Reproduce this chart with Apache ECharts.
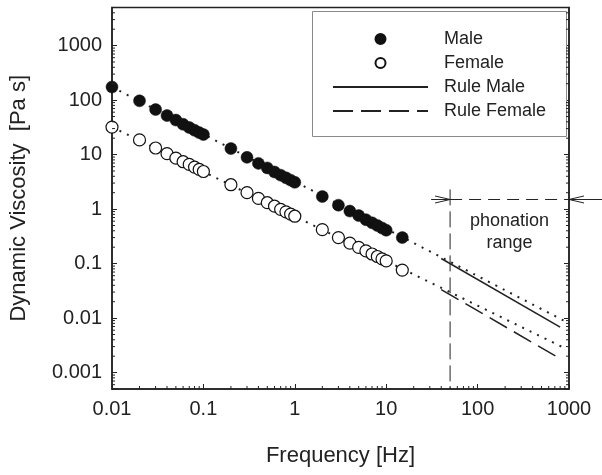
<!DOCTYPE html>
<html>
<head>
<meta charset="utf-8">
<script src="https://cdn.jsdelivr.net/npm/echarts@6/dist/echarts.min.js"></script>
<style>html,body{margin:0;padding:0;background:#fff}#c{width:602px;height:475px}</style>
</head>
<body>
<div id="c"></div>
<script>
// ---- data ----
const freq = [0.01,0.02,0.03,0.04,0.05,0.06,0.07,0.08,0.09,0.1,
              0.2,0.3,0.4,0.5,0.6,0.7,0.8,0.9,1,
              2,3,4,5,6,7,8,9,10,15];
const maleVisc = [174,97,67,52,43,36,31.5,28,25.3,23.3,
                  12.9,8.9,6.9,5.7,4.8,4.2,3.75,3.4,3.1,
                  1.7,1.18,0.92,0.76,0.64,0.56,0.5,0.45,0.41,0.3];
const femaleVisc = [32,18.6,13.2,10.4,8.6,7.4,6.6,5.9,5.35,4.9,
                    2.8,2.0,1.57,1.31,1.13,0.99,0.89,0.81,0.74,
                    0.42,0.30,0.238,0.198,0.171,0.150,0.135,0.122,0.112,0.076];
const fitFreq = [0.01, 900];
const maleFitVisc = [174, 0.0088];
const femaleFitVisc = [32, 0.0028];
const ruleFreq = [40, 800];
const ruleMaleVisc = [0.124, 0.00685];
const ruleFemaleVisc = [0.0334, 0.0018];
const phonationLow = 50, phonationHigh = 1000, phonationLevel = 1.5, phonationTop = 2.3;
const phonationArrowOuter = [31, 18000];
const phonationLabels = ['phonation', 'range'];
const xMin = 0.01, xMax = 1000, yMin = 0.0005, yMax = 5000;
const xTickLabels = ['0.01','0.1','1','10','100','1000'];
const yTickLabels = ['0.001','0.01','0.1','1','10','100','1000'];

// minor tick positions (2..9 x 10^k)
const minorTicks = [];
for (let e = -2; e <= 2; e++) for (let m = 2; m <= 9; m++) minorTicks.push([m * Math.pow(10, e), yMin, 0]);
for (let e = -4; e <= 3; e++) for (let m = 2; m <= 9; m++) {
  const v = m * Math.pow(10, e);
  if (v > yMin * 0.999 && v < yMax * 1.001) minorTicks.push([xMin, v, 1]);
}

const pairs = (xs, ys) => xs.map((x, i) => [x, ys[i]]);
const FONT = "'Liberation Sans', Arial, sans-serif";
const INK = '#222';

function labelFmt(list) {
  return function (v) {
    for (const s of list) if (Math.abs(parseFloat(s) - v) / v < 1e-6) return s;
    return '';
  };
}

const chart = echarts.init(document.getElementById('c'));
chart.setOption({
  animation: false,
  textStyle: { fontFamily: FONT },
  grid: { left: 110, right: 33, top: 7.5, bottom: 86, show: true, borderColor: INK, borderWidth: 1.5, backgroundColor: 'transparent' },
  graphic: [{
    type: 'rect', left: 312, top: 11, z: 1,
    shape: { width: 254, height: 125 },
    style: { fill: '#fff', stroke: '#8a8a8a', lineWidth: 1 }
  }],
  legend: {
    data: [
      { name: 'Male' },
      { name: 'Female' },
      { name: 'Rule Male', itemStyle: { opacity: 0 } },
      { name: 'Rule Female', itemStyle: { opacity: 0 } }
    ],
    orient: 'vertical', left: 327, top: 25, z: 5,
    itemWidth: 95, itemHeight: 10, itemGap: 6,
    selectedMode: false,
    textStyle: { fontSize: 18, color: INK, fontFamily: FONT, padding: [0, 0, 0, 11], lineHeight: 18 }
  },
  xAxis: {
    type: 'log', logBase: 10, min: xMin, max: xMax,
    name: 'Frequency [Hz]', nameLocation: 'middle', nameGap: 56,
    nameTextStyle: { fontSize: 22, color: INK },
    axisLine: { lineStyle: { color: INK, width: 1.5 } },
    axisTick: { inside: true, length: 5, lineStyle: { color: INK, width: 1 } },
    axisLabel: { fontSize: 20, color: INK, margin: 10, formatter: labelFmt(xTickLabels) },
    splitLine: { show: false }
  },
  yAxis: [{
    type: 'log', logBase: 10, min: yMin, max: yMax, splitNumber: 7,
    name: 'Dynamic Viscosity  [Pa s]', nameLocation: 'middle', nameGap: 82,
    nameTextStyle: { fontSize: 22, color: INK },
    axisLine: { lineStyle: { color: INK, width: 1.5 } },
    axisTick: { inside: true, length: 5, lineStyle: { color: INK, width: 1 } },
    axisLabel: { fontSize: 20, color: INK, margin: 10, formatter: labelFmt(yTickLabels), showMinLabel: true, showMaxLabel: true },
    splitLine: { show: false }
  }, {
    type: 'log', logBase: 10, min: yMin, max: yMax, splitNumber: 7, position: 'right',
    axisLine: { show: true, lineStyle: { color: INK, width: 1.5 } },
    axisTick: { inside: true, length: 5, lineStyle: { color: INK, width: 1 } },
    axisLabel: { show: false },
    splitLine: { show: false }
  }],
  series: [
    {
      name: 'Male fit', type: 'line', data: pairs(fitFreq, maleFitVisc), symbol: 'none', z: 2,
      lineStyle: { color: INK, width: 2, type: [2, 6.3] }
    },
    {
      name: 'Female fit', type: 'line', data: pairs(fitFreq, femaleFitVisc), symbol: 'none', z: 2,
      lineStyle: { color: INK, width: 2, type: [2, 6.3] }
    },
    {
      name: 'Rule Male', type: 'line', data: pairs(ruleFreq, ruleMaleVisc), symbol: 'none', showSymbol: false, z: 3,
      lineStyle: { color: INK, width: 1.5, type: 'solid' }, itemStyle: { color: INK }
    },
    {
      name: 'Rule Female', type: 'line', data: pairs(ruleFreq, ruleFemaleVisc), symbol: 'none', showSymbol: false, z: 3,
      lineStyle: { color: INK, width: 1.5, type: [20, 8] }, itemStyle: { color: INK }
    },
    {
      name: 'Male', type: 'scatter', data: pairs(freq, maleVisc), symbol: 'circle', symbolSize: 12, clip: false, z: 4,
      itemStyle: { color: '#111', borderColor: '#111', borderWidth: 0.5, opacity: 1 }
    },
    {
      name: 'Female', type: 'scatter', data: pairs(freq, femaleVisc), symbol: 'circle', symbolSize: 12, clip: false, z: 4,
      itemStyle: { color: '#fff', borderColor: '#111', borderWidth: 1.2, opacity: 1 }
    },
    {
      name: 'minor ticks', type: 'custom', data: minorTicks, encode: { x: 0, y: 1 }, silent: true, clip: false, z: 6,
      renderItem: function (params, api) {
        const kind = api.value(2);
        const st = { stroke: INK, lineWidth: 1 };
        if (kind === 0) {
          const p = api.coord([api.value(0), yMin]);
          return { type: 'line', shape: { x1: p[0], y1: p[1], x2: p[0], y2: p[1] - 3 }, style: st };
        }
        const pl = api.coord([xMin, api.value(1)]);
        const pr = api.coord([xMax, api.value(1)]);
        return { type: 'group', children: [
          { type: 'line', shape: { x1: pl[0], y1: pl[1], x2: pl[0] + 3, y2: pl[1] }, style: st },
          { type: 'line', shape: { x1: pr[0], y1: pr[1], x2: pr[0] - 3, y2: pr[1] }, style: st }
        ]};
      }
    },
    {
      name: 'phonation', type: 'custom', data: [[phonationLow, phonationLevel]], encode: { x: 0, y: 1 }, silent: true, clip: false, z: 6,
      renderItem: function (params, api) {
        const lo = api.coord([phonationLow, phonationLevel]);
        const hi = api.coord([phonationHigh, phonationLevel]);
        const top = api.coord([phonationLow, phonationTop]);
        const bot = api.coord([phonationLow, yMin]);
        const oL = api.coord([phonationArrowOuter[0], phonationLevel]);
        const oR = api.coord([phonationArrowOuter[1], phonationLevel]);
        const st = { stroke: INK, lineWidth: 1, fill: 'none' };
        const cx = (lo[0] + hi[0]) / 2;
        return { type: 'group', children: [
          { type: 'line', shape: { x1: top[0], y1: top[1], x2: bot[0], y2: bot[1] }, style: Object.assign({ lineDash: [16, 6] }, st) },
          { type: 'line', shape: { x1: lo[0], y1: lo[1], x2: hi[0], y2: hi[1] }, style: Object.assign({ lineDash: [12, 7] }, st) },
          { type: 'line', shape: { x1: oL[0], y1: oL[1], x2: lo[0], y2: lo[1] }, style: st },
          { type: 'polyline', shape: { points: [[lo[0] - 15, lo[1] - 3.5], [lo[0], lo[1]], [lo[0] - 15, lo[1] + 3.5]] }, style: st },
          { type: 'line', shape: { x1: oR[0], y1: oR[1], x2: hi[0], y2: hi[1] }, style: st },
          { type: 'polyline', shape: { points: [[hi[0] + 15, hi[1] - 3.5], [hi[0], hi[1]], [hi[0] + 15, hi[1] + 3.5]] }, style: st },
          { type: 'text', x: cx, y: lo[1] + 22, style: { text: phonationLabels[0], fill: INK, font: "18px " + FONT, align: 'center', verticalAlign: 'middle' } },
          { type: 'text', x: cx, y: lo[1] + 44, style: { text: phonationLabels[1], fill: INK, font: "18px " + FONT, align: 'center', verticalAlign: 'middle' } }
        ]};
      }
    }
  ]
});
</script>
</body>
</html>
